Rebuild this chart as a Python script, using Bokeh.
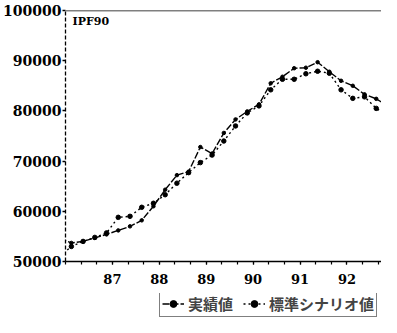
from bokeh.plotting import figure
from bokeh.layouts import column
from bokeh.models import (FixedTicker, Span, Label, Legend, LegendItem, Range1d)
from bokeh.embed import file_html
from bokeh.resources import INLINE

# quarterly data, plotted at mid-quarter (85Q4 .. 92Q4)
years = [1985] + [y for y in range(1986, 1993) for _ in range(4)]
quarters = [4] + [q for _ in range(1986, 1993) for q in (1, 2, 3, 4)]
actual = [54600,
          53700, 54000, 54700, 55400,
          56200, 57000, 58200, 61000,
          64300, 67200, 67900, 72800,
          71500, 75600, 78300, 79900,
          81300, 85500, 86800, 88500,
          88600, 89700, 87800, 86000,
          85000, 83300, 82400, 81000]
scenario = [51000,
            53000, 54000, 54800, 55700,
            58800, 59000, 60800, 61600,
            63300, 65600, 67700, 69700,
            71200, 74000, 77000, 79600,
            81000, 84200, 86300, 86300,
            87400, 87900, 87500, 84200,
            82500, 82800, 80500, 79000]
x_tick_years = [1987, 1988, 1989, 1990, 1991, 1992]
x_tick_labels = ["87", "88", "89", "90", "91", "92"]
y_ticks = [50000, 60000, 70000, 80000, 90000, 100000]
series_names = ["実績値", "標準シナリオ値"]
panel_title = "IPF90"

t = [y + (q - 1) / 4 + 0.125 for y, q in zip(years, quarters)]

p = figure(width=381, height=293, output_backend="svg", toolbar_location=None,
           x_range=Range1d(1986.0, 1992.737), y_range=Range1d(50000, 100000),
           min_border_left=61, min_border_right=0, min_border_top=10,
           min_border_bottom=32)
p.outline_line_color = None
p.grid.visible = False
p.background_fill_color = "white"
p.border_fill_color = "white"

SERIF = "DejaVu Serif"

# x axis
xa = p.xaxis[0]
minor = [y + k / 3 for y in range(1986, 1994) for k in range(3)]
xa.ticker = FixedTicker(ticks=x_tick_years, minor_ticks=minor)
xa.major_label_overrides = {yv: lab for yv, lab in zip(x_tick_years, x_tick_labels)}
xa.axis_line_width = 1.6
xa.axis_line_color = "black"
xa.major_tick_in = 0
xa.major_tick_out = 3
xa.minor_tick_in = 0
xa.minor_tick_out = 3
xa.major_tick_line_width = 1.2
xa.minor_tick_line_width = 1.2
xa.major_label_standoff = 9
xa.major_label_text_font = SERIF
xa.major_label_text_font_style = "bold"
xa.major_label_text_font_size = "13px"
xa.major_label_text_color = "black"

# y axis
ya = p.yaxis[0]
ya.ticker = FixedTicker(ticks=y_ticks, minor_ticks=[])
ya.axis_line_dash = "4 2"
ya.axis_line_width = 1.3
ya.axis_line_color = "black"
ya.major_tick_in = 0
ya.major_tick_out = 3
ya.major_tick_line_width = 1.3
ya.major_label_standoff = 1
ya.major_label_text_font = SERIF
ya.major_label_text_font_style = "bold"
ya.major_label_text_font_size = "14px"
ya.major_label_text_color = "black"
ya.formatter.use_scientific = False

# top border line
p.add_layout(Span(location=100000, dimension="width", line_color="black",
                  line_width=1.6))

# series
LINE_STYLES = [dict(line_dash="7 2", size=3.5), dict(line_dash="2 3", size=4.5)]
r1 = p.line(t, actual, line_color="black", line_width=1.4, line_dash=LINE_STYLES[0]["line_dash"])
m1 = p.scatter(t, actual, size=LINE_STYLES[0]["size"], marker="circle", color="black")
r2 = p.line(t, scenario, line_color="black", line_width=1.4, line_dash=LINE_STYLES[1]["line_dash"])
m2 = p.scatter(t, scenario, size=LINE_STYLES[1]["size"], marker="circle", color="black")

p.add_layout(Label(x=7, y=247, x_units="screen", y_units="screen",
                   text=panel_title, text_font=SERIF, text_font_style="bold",
                   text_font_size="11px", text_baseline="top", text_color="black"))

# legend strip below the chart (its frame is aligned with the chart frame)
p2 = figure(width=381, height=24, output_backend="svg", toolbar_location=None,
            x_axis_type=None, y_axis_type=None, x_range=Range1d(0, 1), y_range=Range1d(0, 1),
            min_border_left=61, min_border_right=0, min_border_top=0, min_border_bottom=0)
p2.outline_line_color = None
p2.grid.visible = False
items = []
for name, st, vals in zip(series_names, LINE_STYLES, [actual, scenario]):
    # same series, far outside this strip's ranges: only their legend glyphs show
    lr = p2.line(t, vals, line_color="black", line_width=1.4, line_dash=st["line_dash"])
    mr = p2.scatter(t, vals, size=st["size"], marker="circle", color="black")
    items.append(LegendItem(label=name, renderers=[lr, mr]))

legend = Legend(items=items, orientation="horizontal", location=(94, 0))
legend.border_line_color = "black"
legend.border_line_width = 1.3
legend.background_fill_alpha = 1
legend.label_text_font = "Noto Sans CJK JP"
legend.label_text_font_style = "bold"
legend.label_text_font_size = "15px"
legend.label_standoff = 4
legend.glyph_width = 22
legend.glyph_height = 17
legend.label_height = 17
legend.padding = 2
legend.spacing = 10
legend.margin = 0
p2.add_layout(legend, "center")

open("out.html", "w").write(file_html(column(p, p2, spacing=0), INLINE))
